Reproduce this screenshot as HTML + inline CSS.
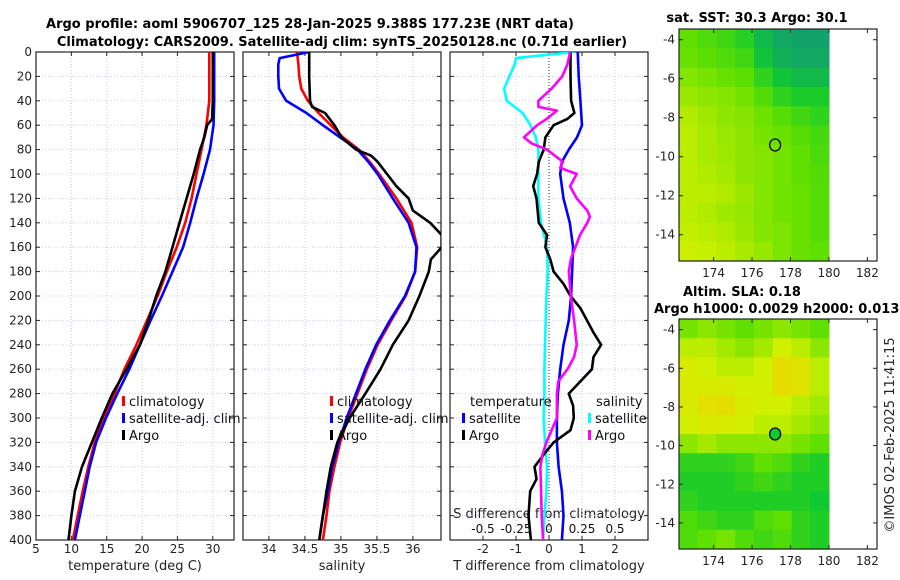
<!DOCTYPE html>
<html><head><meta charset="utf-8"><style>
body{margin:0;background:#fff}
svg{display:block;font-family:"DejaVu Sans","Liberation Sans",sans-serif}
</style></head><body>
<svg id="c" width="900" height="580" xmlns="http://www.w3.org/2000/svg">
<text x="310" y="28" text-anchor="middle" font-size="13" font-weight="bold">Argo profile: aoml 5906707_125 28-Jan-2025 9.388S 177.23E (NRT data)</text>
<text x="342" y="46" text-anchor="middle" font-size="13" font-weight="bold">Climatology: CARS2009. Satellite-adj clim: synTS_20250128.nc (0.71d earlier)</text>
<text x="757" y="22" text-anchor="middle" font-size="13" font-weight="bold">sat. SST: 30.3 Argo: 30.1</text>
<text x="683" y="296" font-size="13" font-weight="bold">Altim. SLA: 0.18</text>
<text x="654" y="313" font-size="13" font-weight="bold">Argo h1000: 0.0029 h2000: 0.013</text>
<text transform="translate(894,435) rotate(-90)" text-anchor="middle" font-size="13" fill="#222">©IMOS 02-Feb-2025 11:41:15</text>
<text x="135" y="570" text-anchor="middle" font-size="13" fill="#222">temperature (deg C)</text>
<text x="342" y="570" text-anchor="middle" font-size="13" fill="#222">salinity</text>
<text x="549" y="570" text-anchor="middle" font-size="13" fill="#222">T difference from climatology</text>
<text x="549" y="518" text-anchor="middle" font-size="13" fill="#222">S difference from climatology</text>
</svg>
<script>
// ---- data (depth in dbar) ----
const depths=[0,20,40,60,80,100,120,140,160,180,200,220,240,260,280,300,320,340,360,380,400];
const tClim=[29.5,29.5,29.5,29.1,28.4,27.7,27.0,26.1,24.9,23.5,22.2,20.7,19.2,17.5,16.1,14.6,13.3,12.4,11.6,10.9,10.2];
const tSat=[30.2,30.2,30.2,30.1,29.6,28.7,27.7,26.8,25.8,24.3,22.8,21.2,19.7,18.2,16.5,14.9,13.5,12.6,11.9,11.2,10.5];
const argoDepthT=[0,20,40,55,60,70,80,100,120,140,160,180,200,220,240,260,280,300,320,340,360,380,400];
const tArgo=[30.0,30.0,30.0,29.9,29.2,28.8,28.2,27.3,26.3,25.3,24.3,23.3,22.0,20.9,19.7,17.8,15.8,14.3,12.9,11.5,10.5,10.0,9.6];
const sDepthClim=[0,10,20,30,40,50,60,70,80,90,100,120,140,160,180,200,220,240,260,280,300,320,340,360,380,400];
const sClim=[34.39,34.41,34.42,34.45,34.54,34.69,34.86,35.03,35.25,35.40,35.53,35.77,35.98,36.06,36.03,35.90,35.70,35.51,35.36,35.23,35.10,34.99,34.91,34.84,34.80,34.75];
const sDepthSat=[0,5,10,20,30,40,50,60,70,80,90,100,120,140,160,180,200,220,240,260,280,300,320,340,360,380,400];
const sSat=[34.56,34.15,34.13,34.13,34.14,34.24,34.52,34.75,34.99,35.23,35.38,35.51,35.72,35.94,36.05,36.03,35.89,35.68,35.49,35.34,35.21,35.08,34.97,34.88,34.82,34.75,34.70];
const sDepthArgo=[0,20,40,45,50,60,70,80,85,90,100,110,120,130,140,150,160,170,180,200,220,240,260,280,300,320,340,360,380,400];
const sArgo=[34.56,34.56,34.57,34.60,34.78,34.91,35.01,35.21,35.42,35.51,35.64,35.77,35.94,36.0,36.24,36.4,36.4,36.25,36.22,36.09,35.94,35.72,35.55,35.34,35.12,34.95,34.86,34.80,34.75,34.70];
const dDepthTsat=[0,20,40,60,70,80,90,100,120,140,160,180,200,220,240,260,280,300,320,340,360,380,400];
const dTsat=[0.87,0.9,0.95,1.0,0.85,0.6,0.39,0.34,0.44,0.63,0.73,0.70,0.67,0.6,0.44,0.34,0.27,0.24,0.24,0.29,0.39,0.44,0.39];
const dDepthTargo=[0,20,40,50,55,60,70,80,90,100,110,120,140,150,160,170,180,190,200,210,220,230,240,250,260,270,280,290,300,310,320,330,340,350,360,380,400];
const dTargo=[0.65,0.65,0.67,0.77,0.55,0.14,-0.11,-0.16,-0.31,-0.36,-0.48,-0.38,-0.31,-0.06,-0.11,0.04,0.14,0.44,0.65,0.95,1.15,1.35,1.58,1.35,1.3,0.95,0.6,0.73,0.75,0.65,0.14,-0.16,-0.44,-0.38,-0.57,-0.62,-0.55];
const dDepthSsat=[0,5,10,20,30,40,45,50,60,70,80,100,120,140,160,180,200,220,240,260,280,300,320,340,360,380,400];
const dSsat=[0.19,-0.25,-0.26,-0.30,-0.34,-0.32,-0.26,-0.20,-0.14,-0.10,-0.08,-0.08,-0.08,-0.06,-0.015,-0.01,-0.02,-0.025,-0.03,-0.035,-0.035,-0.04,-0.03,-0.015,-0.02,-0.035,-0.045];
const dDepthSargo=[0,10,20,30,40,45,48,55,60,70,75,80,90,95,100,110,120,130,135,140,150,160,170,180,200,220,240,250,260,270,280,300,310,320,330,340,360,380,400];
const dSargo=[0.16,0.14,0.10,0.02,-0.08,-0.08,0.06,-0.02,-0.09,-0.19,-0.13,-0.015,0.105,0.085,0.21,0.16,0.21,0.29,0.31,0.29,0.235,0.20,0.165,0.15,0.165,0.19,0.21,0.19,0.14,0.07,0.06,0.06,0.02,-0.02,-0.05,-0.065,-0.06,-0.055,-0.045];
const tTicks=[5,10,15,20,25,30], sTicks=[34,34.5,35,35.5,36], dTicks=[-2,-1,0,1,2];
const sDiffTicks=[-0.5,-0.25,0,0.25,0.5], sDiffLabels=["-0.5","-0.25","0","0.25","0.5"];
const lonTicks=[174,176,178,180,182], latTicks=[-4,-6,-8,-10,-12,-14];
const sstGrid=[
[0.5,0.45,0.4,0.32,0.15,0.05,0.02,0.02],[0.52,0.48,0.45,0.4,0.22,0.1,0.05,0.05],
[0.58,0.55,0.52,0.48,0.35,0.22,0.15,0.15],[0.63,0.6,0.58,0.54,0.46,0.35,0.28,0.28],
[0.68,0.64,0.6,0.58,0.53,0.47,0.4,0.35],[0.7,0.66,0.63,0.6,0.55,0.52,0.47,0.42],
[0.7,0.66,0.64,0.6,0.58,0.54,0.5,0.44],[0.7,0.68,0.65,0.6,0.58,0.54,0.5,0.46],
[0.7,0.7,0.68,0.63,0.58,0.54,0.52,0.47],[0.7,0.68,0.64,0.62,0.58,0.54,0.52,0.47],
[0.72,0.7,0.68,0.63,0.58,0.56,0.52,0.47],[0.74,0.73,0.7,0.66,0.62,0.56,0.52,0.5]];
const slaGrid=[
[0.55,0.6,0.55,0.5,0.55,0.6,0.55,0.5],[0.7,0.7,0.65,0.6,0.65,0.75,0.7,0.6],
[0.8,0.75,0.7,0.7,0.75,0.9,0.85,0.7],[0.8,0.8,0.8,0.75,0.75,0.9,0.85,0.7],
[0.8,0.88,0.9,0.8,0.75,0.75,0.7,0.65],[0.75,0.8,0.8,0.75,0.7,0.7,0.65,0.6],
[0.6,0.65,0.6,0.6,0.6,0.6,0.55,0.5],[0.35,0.35,0.35,0.4,0.5,0.45,0.35,0.3],
[0.3,0.3,0.3,0.35,0.4,0.35,0.3,0.3],[0.35,0.3,0.3,0.3,0.3,0.3,0.3,0.25],
[0.45,0.4,0.35,0.35,0.45,0.5,0.35,0.3],[0.45,0.5,0.55,0.45,0.4,0.45,0.35,0.3]];
const argoLon=177.2, argoLat=-9.4;

const svg=document.getElementById('c');const NS='http://www.w3.org/2000/svg';
function mk(t,a,p){const e=document.createElementNS(NS,t);for(const k in a)e.setAttribute(k,a[k]);(p||svg).appendChild(e);return e;}
const Y0=52,Y1=540;const yD=d=>Y0+(d/400)*(Y1-Y0);
function panel(name,x0,x1,vmin,vmax){
  const g=mk('g',{});
  const sx=v=>x0+(v-vmin)/(vmax-vmin)*(x1-x0);
  const id='clip'+name;const cp=mk('clipPath',{id:id},g);mk('rect',{x:x0,y:Y0,width:x1-x0,height:Y1-Y0},cp);
  return {g,sx,x0,x1,clip:'url(#'+id+')'};
}
function grid(P,ticks){
  for(let d=20;d<400;d+=20){const l=mk('line',{x1:P.x0,x2:P.x1,y1:yD(d),y2:yD(d),stroke:'#c8cde8','stroke-width':1,'stroke-dasharray':'1,2'},P.g);
    mk('line',{x1:P.x0,x2:P.x0+4,y1:yD(d),y2:yD(d),stroke:'#222'},P.g);mk('line',{x1:P.x1,x2:P.x1-4,y1:yD(d),y2:yD(d),stroke:'#222'},P.g);}
  ticks.forEach(t=>{const x=P.sx(t);const l=mk('line',{x1:x,x2:x,y1:Y0,y2:Y1,stroke:'#c8cde8','stroke-dasharray':'1,2'},P.g);
    mk('line',{x1:x,x2:x,y1:Y1,y2:Y1-4,stroke:'#222'},P.g);mk('line',{x1:x,x2:x,y1:Y0,y2:Y0+4,stroke:'#222'},P.g);
    const tx=mk('text',{x:x,y:553,'text-anchor':'middle','font-size':12,fill:'#222'},P.g);tx.textContent=t;});
  const f=mk('rect',{x:P.x0,y:Y0,width:P.x1-P.x0,height:Y1-Y0,fill:'none',stroke:'#222','stroke-width':1.2},P.g);
}
function line(P,ds,vs,col,name,conv){
  const pts=ds.map((d,i)=>P.sx(conv?conv(vs[i]):vs[i]).toFixed(1)+','+yD(d).toFixed(1)).join(' ');
  const l=mk('polyline',{points:pts,fill:'none',stroke:col,'stroke-width':2.6,'stroke-linejoin':'round','clip-path':P.clip},P.g);
  
}
function legend(P,x,y,col,label){
  const r=mk('rect',{x:x,y:y-10,width:3,height:10,fill:col},P.g);
  const t=mk('text',{x:x+7,y:y,'font-size':13,fill:'#111'},P.g);t.textContent=label;
}
// panel 1
const P1=panel('temperature-panel',36,234,5,33);grid(P1,tTicks);
for(let d=0;d<=400;d+=20){const t=mk('text',{x:32,y:yD(d)+4,'text-anchor':'end','font-size':12,fill:'#222'});t.textContent=d;}
line(P1,depths,tClim,'#f00','temp-climatology-line');line(P1,depths,tSat,'#00f','temp-satellite-line');line(P1,argoDepthT,tArgo,'#000','temp-argo-line');
legend(P1,122,406,'#f00','climatology');legend(P1,122,423,'#00f','satellite-adj. clim');legend(P1,122,440,'#000','Argo');
// panel 2
const P2=panel('salinity-panel',243,441,33.64,36.39);grid(P2,sTicks);
line(P2,sDepthClim,sClim,'#f00','sal-climatology-line');line(P2,sDepthSat,sSat,'#00f','sal-satellite-line');line(P2,sDepthArgo,sArgo,'#000','sal-argo-line');
legend(P2,330,406,'#f00','climatology');legend(P2,330,423,'#00f','satellite-adj. clim');legend(P2,330,440,'#000','Argo');
// panel 3
const P3=panel('difference-panel',450,648,-3,3);grid(P3,dTicks);
mk('line',{x1:P3.sx(0),x2:P3.sx(0),y1:Y0,y2:Y1,stroke:'#333','stroke-dasharray':'1,2'},P3.g);
const s2t=s=>s*4;
line(P3,dDepthSsat,dSsat,'#0ff','sdiff-satellite-line',s2t);line(P3,dDepthTsat,dTsat,'#00f','tdiff-satellite-line');
line(P3,dDepthTargo,dTargo,'#000','tdiff-argo-line');line(P3,dDepthSargo,dSargo,'#f0f','sdiff-argo-line',s2t);
sDiffTicks.forEach((s,i)=>{const t=mk('text',{x:P3.sx(s2t(s)),y:533,'text-anchor':'middle','font-size':12,fill:'#111'},P3.g);t.textContent=sDiffLabels[i];});
{const t=mk('text',{x:470,y:406,'font-size':13,fill:'#111'},P3.g);t.textContent='temperature';
 const u=mk('text',{x:596,y:406,'font-size':13,fill:'#111'},P3.g);u.textContent='salinity';}
legend(P3,462,423,'#00f','satellite');legend(P3,462,440,'#000','Argo');legend(P3,588,423,'#0ff','satellite');legend(P3,588,440,'#f0f','Argo');
// maps
const stops=[[0,[18,160,112]],[0.25,[16,200,48]],[0.5,[96,224,0]],[0.75,[208,240,0]],[1,[245,208,0]]];
function cmap(v){for(let i=1;i<stops.length;i++){if(v<=stops[i][0]){const a=stops[i-1],b=stops[i],f=(v-a[0])/(b[0]-a[0]);return 'rgb('+a[1].map((c,j)=>Math.round(c+(b[1][j]-c)*f)).join(',')+')';}}return 'rgb(245,208,0)';}
function map(name,top,bot,gridv,fillMarker){
  const g=mk('g',{});
  const L=679,R=877,lonMin=172.2,lonMax=182.5,latTop=-3.45,latBot=-15.35;
  const sx=lo=>L+(lo-lonMin)/(lonMax-lonMin)*(R-L), sy=la=>top+(latTop-la)/(latTop-latBot)*(bot-top);
  const rows=gridv.length,cols=gridv[0].length,dlon=(180-lonMin)/cols,dlat=(latTop-latBot)/rows;
  gridv.forEach((row,r)=>row.forEach((v,c)=>{const x=sx(lonMin+c*dlon),y=sy(latTop-r*dlat);
    const e=mk('rect',{x:x.toFixed(1),y:y.toFixed(1),width:(sx(lonMin+(c+1)*dlon)-x+0.6).toFixed(1),height:(sy(latTop-(r+1)*dlat)-y+0.6).toFixed(1),fill:cmap(v)},g);
    }));
  const m=mk('ellipse',{cx:sx(argoLon),cy:sy(argoLat),rx:5.5,ry:6,fill:fillMarker,stroke:'#000','stroke-width':1.3},g);
  const f=mk('rect',{x:L,y:top,width:R-L,height:bot-top,fill:'none',stroke:'#222','stroke-width':1.2},g);
  lonTicks.forEach(lo=>{const x=sx(lo);mk('line',{x1:x,x2:x,y1:bot,y2:bot-4,stroke:'#222'},g);mk('line',{x1:x,x2:x,y1:top,y2:top+4,stroke:'#222'},g);
    const t=mk('text',{x:x,y:bot+16,'text-anchor':'middle','font-size':12,fill:'#222'},g);t.textContent=lo;});
  latTicks.forEach(la=>{const y=sy(la);mk('line',{x1:L,x2:L+4,y1:y,y2:y,stroke:'#222'},g);mk('line',{x1:R,x2:R-4,y1:y,y2:y,stroke:'#222'},g);
    const t=mk('text',{x:L-4,y:y+4,'text-anchor':'end','font-size':12,fill:'#222'},g);t.textContent=la;});
}
map('sst-map',29,261,sstGrid,'none');
map('sla-map',319,549,slaGrid,'#10c830');
</script>
</body></html>
